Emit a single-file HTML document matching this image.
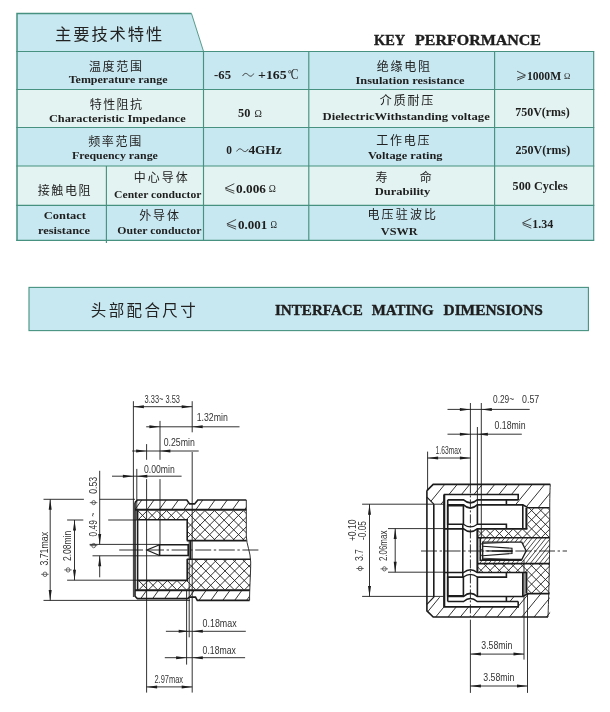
<!DOCTYPE html>
<html><head><meta charset="utf-8"><title>Key Performance</title>
<style>
html,body{margin:0;padding:0;background:#fff;}
body{width:610px;height:712px;overflow:hidden;font-family:"Liberation Serif",serif;}
svg{display:block;will-change:transform}
text{white-space:pre}
.cjk{font-family:"Liberation Sans","Noto Sans CJK SC",sans-serif;}
</style></head><body>
<svg width="610" height="712" viewBox="0 0 610 712">
<rect width="610" height="712" fill="#fff"/>
<polygon points="17,13.6 191.5,13.6 203.5,51.5 17,51.5" fill="#c8e8f1"/>
<rect x="17" y="51.5" width="576.7" height="38" fill="#c8e8f1"/>
<rect x="17" y="89.5" width="576.7" height="38" fill="#e3f3f1"/>
<rect x="17" y="127.5" width="576.7" height="38.5" fill="#c8e8f1"/>
<rect x="17" y="166" width="576.7" height="39.3" fill="#e3f3f1"/>
<rect x="17" y="205.3" width="576.7" height="35" fill="#c8e8f1"/>
<polyline points="17,241 17,13.6 191.5,13.6" fill="none" stroke="#46917f" stroke-width="1.5"/>
<line x1="191.5" y1="13.6" x2="203.5" y2="51.3" stroke="#46917f" stroke-width="0.9"/>
<line x1="16.3" y1="51.5" x2="594.25" y2="51.5" stroke="#46917f" stroke-width="1.15" />
<line x1="16.3" y1="89.5" x2="594.25" y2="89.5" stroke="#46917f" stroke-width="1.15" />
<line x1="16.3" y1="127.5" x2="594.25" y2="127.5" stroke="#46917f" stroke-width="1.15" />
<line x1="16.3" y1="166" x2="594.25" y2="166" stroke="#46917f" stroke-width="1.15" />
<line x1="16.3" y1="205.3" x2="594.25" y2="205.3" stroke="#46917f" stroke-width="1.15" />
<line x1="16.3" y1="240.3" x2="594.25" y2="240.3" stroke="#46917f" stroke-width="1.15" />
<line x1="203.5" y1="51.5" x2="203.5" y2="240.3" stroke="#46917f" stroke-width="1.15" />
<line x1="308.8" y1="51.5" x2="308.8" y2="240.3" stroke="#46917f" stroke-width="1.15" />
<line x1="494.6" y1="51.5" x2="494.6" y2="240.3" stroke="#46917f" stroke-width="1.15" />
<line x1="593.7" y1="51.5" x2="593.7" y2="240.3" stroke="#46917f" stroke-width="1.15" />
<line x1="106.4" y1="166" x2="106.4" y2="243" stroke="#46917f" stroke-width="1.15" />
<g fill="#222"><text class="cjk" x="55.12" y="40.09" font-size="16.3" letter-spacing="1.88">主要技术特性</text></g>
<text x="374" y="44.5" font-family="Liberation Serif" font-size="13.8" font-weight="bold" fill="#1e1e1e" textLength="31.2" lengthAdjust="spacingAndGlyphs" stroke="#1e1e1e" stroke-width="0.35">KEY</text>
<text x="415.1" y="44.5" font-family="Liberation Serif" font-size="13.8" font-weight="bold" fill="#1e1e1e" textLength="125.9" lengthAdjust="spacingAndGlyphs" stroke="#1e1e1e" stroke-width="0.35">PERFORMANCE</text>
<g fill="#222"><text class="cjk" x="88.89" y="71.10" font-size="12" letter-spacing="1.67">温度范围</text></g>
<text x="68.7" y="83.4" font-family="Liberation Serif" font-size="10.6" font-weight="bold" fill="#1e1e1e" textLength="98.8" lengthAdjust="spacingAndGlyphs" >Temperature range</text>
<text x="214.1" y="78.9" font-family="Liberation Serif" font-size="12.7" font-weight="bold" fill="#1e1e1e" textLength="16.9" lengthAdjust="spacingAndGlyphs" >-65</text>
<path d="M242.80,75.70 C244.62,72.55 246.33,73.00 248.15,74.80 S251.68,77.05 253.50,73.90" fill="none" stroke="#2a2a2a" stroke-width="0.9" stroke-linecap="round"/>
<text x="258" y="78.9" font-family="Liberation Serif" font-size="12.7" font-weight="bold" fill="#1e1e1e" textLength="28.7" lengthAdjust="spacingAndGlyphs" >+165</text>
<circle cx="289.70" cy="71.80" r="1.25" fill="none" stroke="#2a2a2a" stroke-width="0.7"/>
<text x="290.8" y="79" font-family="Liberation Serif" font-size="13.9394" font-weight="normal" fill="#1e1e1e" textLength="7.7" lengthAdjust="spacingAndGlyphs" >C</text>
<g fill="#222"><text class="cjk" x="376.65" y="70.62" font-size="12" letter-spacing="1.79">绝缘电阻</text></g>
<text x="355.5" y="83.6" font-family="Liberation Serif" font-size="10.6" font-weight="bold" fill="#1e1e1e" textLength="108.9" lengthAdjust="spacingAndGlyphs" >Insulation resistance</text>
<path d="M517.10,71.20 L525.50,75.20 L517.10,77.96 M525.20,76.72 L517.10,80.10" fill="none" stroke="#2a2a2a" stroke-width="0.85" stroke-linejoin="miter"/>
<text x="527" y="79.8" font-family="Liberation Serif" font-size="11.6" font-weight="bold" fill="#1e1e1e" textLength="34.1" lengthAdjust="spacingAndGlyphs" >1000M</text>
<text x="563.9" y="79" font-family="Liberation Serif" font-size="9.2" font-weight="normal" fill="#1e1e1e" textLength="6.3" lengthAdjust="spacingAndGlyphs" >Ω</text>
<g fill="#222"><text class="cjk" x="89.82" y="108.87" font-size="12" letter-spacing="1.37">特性阻抗</text></g>
<text x="48.9" y="122.3" font-family="Liberation Serif" font-size="10.6" font-weight="bold" fill="#1e1e1e" textLength="136.9" lengthAdjust="spacingAndGlyphs" >Characteristic Impedance</text>
<text x="238.1" y="117" font-family="Liberation Serif" font-size="12.5" font-weight="bold" fill="#1e1e1e" textLength="12.3" lengthAdjust="spacingAndGlyphs" >50</text>
<text x="254.6" y="116.6" font-family="Liberation Serif" font-size="10.5" font-weight="normal" fill="#1e1e1e" textLength="7.4" lengthAdjust="spacingAndGlyphs" >Ω</text>
<g fill="#222"><text class="cjk" x="379.82" y="105.46" font-size="12" letter-spacing="1.85">介质耐压</text></g>
<text x="322.6" y="120.3" font-family="Liberation Serif" font-size="10.6" font-weight="bold" fill="#1e1e1e" textLength="167.2" lengthAdjust="spacingAndGlyphs" >DielectricWithstanding voltage</text>
<text x="515.2" y="115.7" font-family="Liberation Serif" font-size="11.8" font-weight="bold" fill="#1e1e1e" textLength="54.5" lengthAdjust="spacingAndGlyphs" >750V(rms)</text>
<g fill="#222"><text class="cjk" x="88.13" y="145.53" font-size="12" letter-spacing="1.69">频率范围</text></g>
<text x="71.9" y="159.2" font-family="Liberation Serif" font-size="10.6" font-weight="bold" fill="#1e1e1e" textLength="86" lengthAdjust="spacingAndGlyphs" >Frequency range</text>
<text x="226.3" y="154.2" font-family="Liberation Serif" font-size="13" font-weight="bold" fill="#1e1e1e" textLength="5.7" lengthAdjust="spacingAndGlyphs" >0</text>
<path d="M236.90,151.10 C238.79,147.95 240.56,148.40 242.45,150.20 S246.11,152.45 248.00,149.30" fill="none" stroke="#2a2a2a" stroke-width="0.9" stroke-linecap="round"/>
<text x="248.4" y="154.2" font-family="Liberation Serif" font-size="13" font-weight="bold" fill="#1e1e1e" textLength="33.2" lengthAdjust="spacingAndGlyphs" >4GHz</text>
<g fill="#222"><text class="cjk" x="376.31" y="144.73" font-size="12" letter-spacing="1.72">工作电压</text></g>
<text x="368" y="159.2" font-family="Liberation Serif" font-size="10.6" font-weight="bold" fill="#1e1e1e" textLength="74.5" lengthAdjust="spacingAndGlyphs" >Voltage rating</text>
<text x="515.6" y="154.2" font-family="Liberation Serif" font-size="11.8" font-weight="bold" fill="#1e1e1e" textLength="54.7" lengthAdjust="spacingAndGlyphs" >250V(rms)</text>
<g fill="#222"><text class="cjk" x="37.70" y="195.10" font-size="12" letter-spacing="1.6">接触电阻</text></g>
<g fill="#222"><text class="cjk" x="133.78" y="181.87" font-size="12" letter-spacing="2.02">中心导体</text></g>
<text x="114.1" y="197.6" font-family="Liberation Serif" font-size="10.6" font-weight="bold" fill="#1e1e1e" textLength="87.3" lengthAdjust="spacingAndGlyphs" >Center conductor</text>
<path d="M234.30,183.70 L225.20,188.06 L234.30,191.07 M225.50,189.71 L234.30,193.40" fill="none" stroke="#2a2a2a" stroke-width="0.85" stroke-linejoin="miter"/>
<text x="236.1" y="193.1" font-family="Liberation Serif" font-size="12.3" font-weight="bold" fill="#1e1e1e" textLength="29.8" lengthAdjust="spacingAndGlyphs" >0.006</text>
<text x="268.8" y="192.3" font-family="Liberation Serif" font-size="10" font-weight="normal" fill="#1e1e1e" textLength="7.1" lengthAdjust="spacingAndGlyphs" >Ω</text>
<g fill="#222"><text class="cjk" x="375.59" y="181.89" font-size="12">寿</text></g>
<g fill="#222"><text class="cjk" x="419.76" y="181.94" font-size="12">命</text></g>
<text x="374.7" y="194.7" font-family="Liberation Serif" font-size="10.6" font-weight="bold" fill="#1e1e1e" textLength="55.6" lengthAdjust="spacingAndGlyphs" >Durability</text>
<text x="512.6" y="189.9" font-family="Liberation Serif" font-size="11.8" font-weight="bold" fill="#1e1e1e" textLength="55.1" lengthAdjust="spacingAndGlyphs" >500 Cycles</text>
<text x="43.8" y="218.7" font-family="Liberation Serif" font-size="10.6" font-weight="bold" fill="#1e1e1e" textLength="42.2" lengthAdjust="spacingAndGlyphs" >Contact</text>
<text x="38" y="233.7" font-family="Liberation Serif" font-size="10.6" font-weight="bold" fill="#1e1e1e" textLength="52.1" lengthAdjust="spacingAndGlyphs" >resistance</text>
<g fill="#222"><text class="cjk" x="139.32" y="219.57" font-size="12" letter-spacing="1.81">外导体</text></g>
<text x="117.3" y="233.7" font-family="Liberation Serif" font-size="10.6" font-weight="bold" fill="#1e1e1e" textLength="84.1" lengthAdjust="spacingAndGlyphs" >Outer conductor</text>
<path d="M236.10,219.50 L226.90,223.87 L236.10,226.87 M227.20,225.51 L236.10,229.20" fill="none" stroke="#2a2a2a" stroke-width="0.85" stroke-linejoin="miter"/>
<text x="238.1" y="228.9" font-family="Liberation Serif" font-size="12.3" font-weight="bold" fill="#1e1e1e" textLength="29.2" lengthAdjust="spacingAndGlyphs" >0.001</text>
<text x="270.5" y="228.1" font-family="Liberation Serif" font-size="10" font-weight="normal" fill="#1e1e1e" textLength="6.5" lengthAdjust="spacingAndGlyphs" >Ω</text>
<g fill="#222"><text class="cjk" x="367.47" y="219.40" font-size="12" letter-spacing="2.14">电压驻波比</text></g>
<text x="380.8" y="234.7" font-family="Liberation Serif" font-size="11.2" font-weight="bold" fill="#1e1e1e" textLength="36.7" lengthAdjust="spacingAndGlyphs" >VSWR</text>
<path d="M531.30,218.50 L522.50,222.87 L531.30,225.87 M522.80,224.51 L531.30,228.20" fill="none" stroke="#2a2a2a" stroke-width="0.85" stroke-linejoin="miter"/>
<text x="532.3" y="227.9" font-family="Liberation Serif" font-size="12" font-weight="bold" fill="#1e1e1e" textLength="21" lengthAdjust="spacingAndGlyphs" >1.34</text>
<rect x="29" y="287.4" width="559.4" height="43.2" fill="#c8e8f1" stroke="#46917f" stroke-width="1.1"/>
<g fill="#222"><text class="cjk" x="90.76" y="315.91" font-size="15.5" letter-spacing="2.4">头部配合尺寸</text></g>
<text x="275" y="314.8" font-family="Liberation Serif" font-size="14.3" font-weight="bold" fill="#1e1e1e" textLength="87.8" lengthAdjust="spacingAndGlyphs" stroke="#1e1e1e" stroke-width="0.35">INTERFACE</text>
<text x="371.7" y="314.8" font-family="Liberation Serif" font-size="14.3" font-weight="bold" fill="#1e1e1e" textLength="61.9" lengthAdjust="spacingAndGlyphs" stroke="#1e1e1e" stroke-width="0.35">MATING</text>
<text x="443.5" y="314.8" font-family="Liberation Serif" font-size="14.3" font-weight="bold" fill="#1e1e1e" textLength="99.3" lengthAdjust="spacingAndGlyphs" stroke="#1e1e1e" stroke-width="0.35">DIMENSIONS</text>
<clipPath id="c1"><path d="M135,509.6 L135,502.6 L137.4,500 L186.8,500 L189.6,503.9 L194.6,503.9 L197.8,500 L246.3,500 L246.3,509.6 Z" clip-rule="evenodd"/></clipPath>
<path d="M110.50,509.60 L117.77,499.50 M122.70,509.60 L129.97,499.50 M134.90,509.60 L142.17,499.50 M147.10,509.60 L154.37,499.50 M159.30,509.60 L166.57,499.50 M171.50,509.60 L178.77,499.50 M183.70,509.60 L190.97,499.50 M195.90,509.60 L203.17,499.50 M208.10,509.60 L215.37,499.50 M220.30,509.60 L227.57,499.50 M232.50,509.60 L239.77,499.50 M244.70,509.60 L251.97,499.50 M256.90,509.60 L264.17,499.50" clip-path="url(#c1)" fill="none" stroke="#1c1c1c" stroke-width="0.9"/>
<clipPath id="c2"><path d="M135,590.2 L135,596.2 L137.4,598.6 L187.7,598.6 L189.5,597.1 L195.5,597.1 L197.3,600.4 L249.6,600.4 L249.8,590.2 Z" clip-rule="evenodd"/></clipPath>
<path d="M115.58,600.50 L123.00,590.20 M127.48,600.50 L134.90,590.20 M139.38,600.50 L146.80,590.20 M151.28,600.50 L158.70,590.20 M163.18,600.50 L170.60,590.20 M175.08,600.50 L182.50,590.20 M186.98,600.50 L194.40,590.20 M198.88,600.50 L206.30,590.20 M210.78,600.50 L218.20,590.20 M222.68,600.50 L230.10,590.20 M234.58,600.50 L242.00,590.20 M246.48,600.50 L253.90,590.20 M258.38,600.50 L265.80,590.20" clip-path="url(#c2)" fill="none" stroke="#1c1c1c" stroke-width="0.9"/>
<clipPath id="c3"><path d="M137.4,510.4 L246.3,510.4 L246.3,540.4 L187.5,540.4 L187.5,519.6 L137.4,519.6 Z" clip-rule="evenodd"/></clipPath>
<path d="M88.50,540.60 L118.70,510.40 M98.10,540.60 L128.30,510.40 M107.70,540.60 L137.90,510.40 M117.30,540.60 L147.50,510.40 M126.90,540.60 L157.10,510.40 M136.50,540.60 L166.70,510.40 M146.10,540.60 L176.30,510.40 M155.70,540.60 L185.90,510.40 M165.30,540.60 L195.50,510.40 M174.90,540.60 L205.10,510.40 M184.50,540.60 L214.70,510.40 M194.10,540.60 L224.30,510.40 M203.70,540.60 L233.90,510.40 M213.30,540.60 L243.50,510.40 M222.90,540.60 L253.10,510.40 M232.50,540.60 L262.70,510.40 M242.10,540.60 L272.30,510.40 M251.70,540.60 L281.90,510.40 M89.50,510.40 L119.70,540.60 M99.10,510.40 L129.30,540.60 M108.70,510.40 L138.90,540.60 M118.30,510.40 L148.50,540.60 M127.90,510.40 L158.10,540.60 M137.50,510.40 L167.70,540.60 M147.10,510.40 L177.30,540.60 M156.70,510.40 L186.90,540.60 M166.30,510.40 L196.50,540.60 M175.90,510.40 L206.10,540.60 M185.50,510.40 L215.70,540.60 M195.10,510.40 L225.30,540.60 M204.70,510.40 L234.90,540.60 M214.30,510.40 L244.50,540.60 M223.90,510.40 L254.10,540.60 M233.50,510.40 L263.70,540.60 M243.10,510.40 L273.30,540.60 M252.70,510.40 L282.90,540.60" clip-path="url(#c3)" fill="none" stroke="#1c1c1c" stroke-width="0.9"/>
<clipPath id="c4"><path d="M137.4,589.8 L249.9,589.8 L250.6,559.3 L187.5,559.3 L187.5,580.6 L137.4,580.6 Z" clip-rule="evenodd"/></clipPath>
<path d="M90.90,589.80 L121.40,559.30 M100.50,589.80 L131.00,559.30 M110.10,589.80 L140.60,559.30 M119.70,589.80 L150.20,559.30 M129.30,589.80 L159.80,559.30 M138.90,589.80 L169.40,559.30 M148.50,589.80 L179.00,559.30 M158.10,589.80 L188.60,559.30 M167.70,589.80 L198.20,559.30 M177.30,589.80 L207.80,559.30 M186.90,589.80 L217.40,559.30 M196.50,589.80 L227.00,559.30 M206.10,589.80 L236.60,559.30 M215.70,589.80 L246.20,559.30 M225.30,589.80 L255.80,559.30 M234.90,589.80 L265.40,559.30 M244.50,589.80 L275.00,559.30 M254.10,589.80 L284.60,559.30 M88.60,559.30 L119.10,589.80 M98.20,559.30 L128.70,589.80 M107.80,559.30 L138.30,589.80 M117.40,559.30 L147.90,589.80 M127.00,559.30 L157.50,589.80 M136.60,559.30 L167.10,589.80 M146.20,559.30 L176.70,589.80 M155.80,559.30 L186.30,589.80 M165.40,559.30 L195.90,589.80 M175.00,559.30 L205.50,589.80 M184.60,559.30 L215.10,589.80 M194.20,559.30 L224.70,589.80 M203.80,559.30 L234.30,589.80 M213.40,559.30 L243.90,589.80 M223.00,559.30 L253.50,589.80 M232.60,559.30 L263.10,589.80 M242.20,559.30 L272.70,589.80 M251.80,559.30 L282.30,589.80" clip-path="url(#c4)" fill="none" stroke="#1c1c1c" stroke-width="0.9"/>
<line x1="133.40" y1="401.20" x2="133.40" y2="597.00" stroke="#1c1c1c" stroke-width="0.9"/>
<line x1="136.80" y1="468.90" x2="136.80" y2="520.00" stroke="#1c1c1c" stroke-width="0.9"/>
<line x1="146.60" y1="444.10" x2="146.60" y2="459.80" stroke="#1c1c1c" stroke-width="0.9"/>
<line x1="146.60" y1="479.10" x2="146.60" y2="692.60" stroke="#1c1c1c" stroke-width="0.9"/>
<line x1="160.00" y1="420.90" x2="160.00" y2="459.80" stroke="#1c1c1c" stroke-width="0.9"/>
<line x1="160.00" y1="479.10" x2="160.00" y2="544.60" stroke="#1c1c1c" stroke-width="0.9"/>
<line x1="192.20" y1="401.20" x2="192.20" y2="432.30" stroke="#1c1c1c" stroke-width="0.9"/>
<line x1="192.20" y1="452.00" x2="192.20" y2="692.60" stroke="#1c1c1c" stroke-width="0.9"/>
<line x1="186.60" y1="590.00" x2="186.60" y2="664.60" stroke="#1c1c1c" stroke-width="0.9"/>
<line x1="189.20" y1="540.00" x2="189.20" y2="637.30" stroke="#1c1c1c" stroke-width="0.9"/>
<line x1="43.50" y1="499.30" x2="83.90" y2="499.30" stroke="#1c1c1c" stroke-width="0.9"/>
<line x1="99.70" y1="499.30" x2="135.00" y2="499.30" stroke="#1c1c1c" stroke-width="0.9"/>
<line x1="43.50" y1="600.40" x2="190.00" y2="600.40" stroke="#1c1c1c" stroke-width="0.9"/>
<line x1="67.10" y1="520.00" x2="83.30" y2="520.00" stroke="#1c1c1c" stroke-width="0.9"/>
<line x1="108.20" y1="520.00" x2="137.00" y2="520.00" stroke="#1c1c1c" stroke-width="0.9"/>
<line x1="67.10" y1="580.20" x2="137.00" y2="580.20" stroke="#1c1c1c" stroke-width="0.9"/>
<line x1="89.60" y1="544.40" x2="159.30" y2="544.40" stroke="#1c1c1c" stroke-width="0.9"/>
<line x1="92.50" y1="555.80" x2="159.30" y2="555.80" stroke="#1c1c1c" stroke-width="0.9"/>
<line x1="119.20" y1="550.00" x2="143.00" y2="550.00" stroke="#1c1c1c" stroke-width="0.9"/>
<line x1="148.00" y1="550.00" x2="260.00" y2="550.00" stroke="#1c1c1c" stroke-width="0.9" stroke-dasharray="16 2.6 2.4 2.6"/>
<path d="M135,502.6 L137.4,500 L186.8,500 L189.6,503.9 L194.6,503.9 L197.8,500 L246.3,500" fill="none" stroke="#1c1c1c" stroke-width="1.6" stroke-linejoin="miter"/>
<path d="M246.3,500 L246.3,536 C246.5,545 250.6,552 250.7,562 C250.7,575 249.4,590 249.6,600.4" fill="none" stroke="#1c1c1c" stroke-width="0.9" stroke-linejoin="miter"/>
<path d="M135,502.6 L135,596.2 L137.4,598.6 L187.7,598.6 L189.5,597.1 L195.5,597.1 L197.3,600.4 L249.6,600.4" fill="none" stroke="#1c1c1c" stroke-width="1.6" stroke-linejoin="miter"/>
<line x1="135.00" y1="509.70" x2="246.30" y2="509.70" stroke="#1c1c1c" stroke-width="2"/>
<line x1="135.00" y1="590.20" x2="249.80" y2="590.20" stroke="#1c1c1c" stroke-width="2"/>
<path d="M137.6,519.8 L187.2,519.8 L187.2,540.6 M187.2,559.2 L187.2,580.4 L137.6,580.4" fill="none" stroke="#1c1c1c" stroke-width="1.6" stroke-linejoin="miter"/>
<line x1="137.60" y1="510.00" x2="137.60" y2="590.00" stroke="#1c1c1c" stroke-width="1.6"/>
<path d="M246.6,540.6 L186.8,540.6 M186.8,559.2 L250.6,559.2 M190.6,540.6 L190.6,559.2" fill="none" stroke="#1c1c1c" stroke-width="1.6" stroke-linejoin="miter"/>
<path d="M159.6,544.7 L188.2,544.7 L188.2,555.5 L159.6,555.5 Z" fill="none" stroke="#1c1c1c" stroke-width="1.6" stroke-linejoin="miter"/>
<path d="M159.6,544.7 L146.8,550 L159.6,555.5" fill="none" stroke="#1c1c1c" stroke-width="1.2" stroke-linejoin="miter"/>
<line x1="133.40" y1="406.70" x2="192.20" y2="406.70" stroke="#1c1c1c" stroke-width="0.9"/>
<polygon points="133.40,406.70 143.90,405.20 143.90,408.20" fill="#1c1c1c"/>
<polygon points="192.20,406.70 181.70,405.20 181.70,408.20" fill="#1c1c1c"/>
<line x1="146.20" y1="426.80" x2="239.50" y2="426.80" stroke="#1c1c1c" stroke-width="0.9"/>
<polygon points="159.90,426.80 149.40,425.30 149.40,428.30" fill="#1c1c1c"/>
<polygon points="192.20,426.80 202.70,425.30 202.70,428.30" fill="#1c1c1c"/>
<line x1="132.20" y1="451.00" x2="198.70" y2="451.00" stroke="#1c1c1c" stroke-width="0.9"/>
<polygon points="146.60,451.00 136.10,449.50 136.10,452.50" fill="#1c1c1c"/>
<polygon points="159.90,451.00 170.40,449.50 170.40,452.50" fill="#1c1c1c"/>
<line x1="112.00" y1="476.20" x2="181.60" y2="476.20" stroke="#1c1c1c" stroke-width="0.9"/>
<polygon points="133.40,476.20 122.90,474.70 122.90,477.70" fill="#1c1c1c"/>
<polygon points="136.80,476.20 147.30,474.70 147.30,477.70" fill="#1c1c1c"/>
<text x="144.60" y="402.80" font-family="Liberation Sans" font-size="11" fill="#333" textLength="35.40" lengthAdjust="spacingAndGlyphs">3.33~ 3.53</text>
<text x="196.70" y="421.10" font-family="Liberation Sans" font-size="11" fill="#333" textLength="31.10" lengthAdjust="spacingAndGlyphs">1.32min</text>
<text x="163.70" y="445.70" font-family="Liberation Sans" font-size="11" fill="#333" textLength="31.10" lengthAdjust="spacingAndGlyphs">0.25min</text>
<text x="144.00" y="473.20" font-family="Liberation Sans" font-size="11" fill="#333" textLength="30.70" lengthAdjust="spacingAndGlyphs">0.00min</text>
<line x1="50.20" y1="499.30" x2="50.20" y2="600.40" stroke="#1c1c1c" stroke-width="0.9"/>
<polygon points="50.20,499.30 48.70,509.80 51.70,509.80" fill="#1c1c1c"/>
<polygon points="50.20,600.40 48.70,589.90 51.70,589.90" fill="#1c1c1c"/>
<line x1="74.50" y1="520.00" x2="74.50" y2="580.20" stroke="#1c1c1c" stroke-width="0.9"/>
<polygon points="74.50,520.00 73.00,530.50 76.00,530.50" fill="#1c1c1c"/>
<polygon points="74.50,580.20 73.00,569.70 76.00,569.70" fill="#1c1c1c"/>
<line x1="99.70" y1="470.80" x2="99.70" y2="544.40" stroke="#1c1c1c" stroke-width="0.9"/>
<polygon points="99.70,544.40 98.20,533.90 101.20,533.90" fill="#1c1c1c"/>
<line x1="99.70" y1="555.80" x2="99.70" y2="577.30" stroke="#1c1c1c" stroke-width="0.9"/>
<polygon points="99.70,555.80 98.20,566.30 101.20,566.30" fill="#1c1c1c"/>
<text transform="translate(48.00,565.60) rotate(-90)" font-family="Liberation Sans" font-size="11" fill="#333" textLength="33.70" lengthAdjust="spacingAndGlyphs">3.71max</text>
<ellipse cx="44.98" cy="574.30" rx="1.95" ry="2.30" fill="none" stroke="#333" stroke-width="0.7"/>
<line x1="41.10" y1="574.30" x2="48.60" y2="574.30" stroke="#333" stroke-width="0.7"/>
<text transform="translate(71.10,561.10) rotate(-90)" font-family="Liberation Sans" font-size="11" fill="#333" textLength="30.30" lengthAdjust="spacingAndGlyphs">2.08min</text>
<ellipse cx="68.08" cy="569.90" rx="1.87" ry="2.20" fill="none" stroke="#333" stroke-width="0.7"/>
<line x1="64.20" y1="569.90" x2="71.70" y2="569.90" stroke="#333" stroke-width="0.7"/>
<text transform="translate(96.70,536.40) rotate(-90)" font-family="Liberation Sans" font-size="11" fill="#333" textLength="16.20" lengthAdjust="spacingAndGlyphs">0.49</text>
<ellipse cx="93.68" cy="545.60" rx="1.87" ry="2.20" fill="none" stroke="#333" stroke-width="0.7"/>
<line x1="89.80" y1="545.60" x2="97.30" y2="545.60" stroke="#333" stroke-width="0.7"/>
<text transform="translate(96.70,516.40) rotate(-90)" font-family="Liberation Sans" font-size="11" fill="#333" textLength="3.80" lengthAdjust="spacingAndGlyphs">~</text>
<ellipse cx="93.68" cy="502.60" rx="1.79" ry="2.10" fill="none" stroke="#333" stroke-width="0.7"/>
<line x1="89.80" y1="502.60" x2="97.30" y2="502.60" stroke="#333" stroke-width="0.7"/>
<text transform="translate(96.70,493.70) rotate(-90)" font-family="Liberation Sans" font-size="11" fill="#333" textLength="16.80" lengthAdjust="spacingAndGlyphs">0.53</text>
<line x1="165.90" y1="631.30" x2="245.80" y2="631.30" stroke="#1c1c1c" stroke-width="0.9"/>
<polygon points="189.20,631.30 178.70,629.80 178.70,632.80" fill="#1c1c1c"/>
<polygon points="192.30,631.30 202.80,629.80 202.80,632.80" fill="#1c1c1c"/>
<line x1="164.80" y1="657.70" x2="245.10" y2="657.70" stroke="#1c1c1c" stroke-width="0.9"/>
<polygon points="186.60,657.70 176.10,656.20 176.10,659.20" fill="#1c1c1c"/>
<polygon points="192.30,657.70 202.80,656.20 202.80,659.20" fill="#1c1c1c"/>
<line x1="146.60" y1="686.90" x2="192.20" y2="686.90" stroke="#1c1c1c" stroke-width="0.9"/>
<polygon points="146.60,686.90 157.10,685.40 157.10,688.40" fill="#1c1c1c"/>
<polygon points="192.20,686.90 181.70,685.40 181.70,688.40" fill="#1c1c1c"/>
<text x="202.60" y="626.70" font-family="Liberation Sans" font-size="11" fill="#333" textLength="34.00" lengthAdjust="spacingAndGlyphs">0.18max</text>
<text x="202.60" y="653.80" font-family="Liberation Sans" font-size="11" fill="#333" textLength="33.30" lengthAdjust="spacingAndGlyphs">0.18max</text>
<text x="154.40" y="682.50" font-family="Liberation Sans" font-size="11" fill="#333" textLength="28.70" lengthAdjust="spacingAndGlyphs">2.97max</text>
<clipPath id="c5"><path d="M426.90,497.10 L426.90,490.60 L433.20,484.40 L550.30,484.40 L549.60,507.80 L528.00,507.80 L522.80,504.70 L506.40,504.70 L506.40,499.90 L518.20,499.90 L518.20,494.50 L443.80,494.50 L443.80,504.20 L433.80,504.20 Z" clip-rule="evenodd"/></clipPath>
<path d="M387.87,508.00 L407.55,484.00 M400.37,508.00 L420.05,484.00 M412.87,508.00 L432.55,484.00 M425.37,508.00 L445.05,484.00 M437.87,508.00 L457.55,484.00 M450.37,508.00 L470.05,484.00 M462.87,508.00 L482.55,484.00 M475.37,508.00 L495.05,484.00 M487.87,508.00 L507.55,484.00 M500.37,508.00 L520.05,484.00 M512.87,508.00 L532.55,484.00 M525.37,508.00 L545.05,484.00 M537.87,508.00 L557.55,484.00 M550.37,508.00 L570.05,484.00 M562.87,508.00 L582.55,484.00" clip-path="url(#c5)" fill="none" stroke="#1c1c1c" stroke-width="0.9"/>
<clipPath id="c6"><path d="M426.90,604.30 L426.90,610.80 L433.20,617.00 L550.30,617.00 L549.60,593.60 L528.00,593.60 L522.80,596.70 L506.40,596.70 L506.40,601.50 L518.20,601.50 L518.20,606.90 L443.80,606.90 L443.80,597.20 L433.80,597.20 Z" clip-rule="evenodd"/></clipPath>
<path d="M386.17,617.40 L405.85,593.40 M398.47,617.40 L418.15,593.40 M410.77,617.40 L430.45,593.40 M423.07,617.40 L442.75,593.40 M435.37,617.40 L455.05,593.40 M447.67,617.40 L467.35,593.40 M459.97,617.40 L479.65,593.40 M472.27,617.40 L491.95,593.40 M484.57,617.40 L504.25,593.40 M496.87,617.40 L516.55,593.40 M509.17,617.40 L528.85,593.40 M521.47,617.40 L541.15,593.40 M533.77,617.40 L553.45,593.40 M546.07,617.40 L565.75,593.40 M558.37,617.40 L578.05,593.40" clip-path="url(#c6)" fill="none" stroke="#1c1c1c" stroke-width="0.9"/>
<clipPath id="c7"><path d="M477.5,529.4 L527.4,529.4 L527.4,508.2 L549.6,508.2 L549.6,537.7 L477.5,537.7 Z M477.5,572.00 L527.4,572.00 L527.4,593.20 L549.6,593.20 L549.6,563.70 L477.5,563.70 Z" clip-rule="evenodd"/></clipPath>
<path d="M374.50,594.00 L460.50,508.00 M383.70,594.00 L469.70,508.00 M392.90,594.00 L478.90,508.00 M402.10,594.00 L488.10,508.00 M411.30,594.00 L497.30,508.00 M420.50,594.00 L506.50,508.00 M429.70,594.00 L515.70,508.00 M438.90,594.00 L524.90,508.00 M448.10,594.00 L534.10,508.00 M457.30,594.00 L543.30,508.00 M466.50,594.00 L552.50,508.00 M475.70,594.00 L561.70,508.00 M484.90,594.00 L570.90,508.00 M494.10,594.00 L580.10,508.00 M503.30,594.00 L589.30,508.00 M512.50,594.00 L598.50,508.00 M521.70,594.00 L607.70,508.00 M530.90,594.00 L616.90,508.00 M540.10,594.00 L626.10,508.00 M549.30,594.00 L635.30,508.00 M558.50,594.00 L644.50,508.00 M372.70,508.00 L458.70,594.00 M381.90,508.00 L467.90,594.00 M391.10,508.00 L477.10,594.00 M400.30,508.00 L486.30,594.00 M409.50,508.00 L495.50,594.00 M418.70,508.00 L504.70,594.00 M427.90,508.00 L513.90,594.00 M437.10,508.00 L523.10,594.00 M446.30,508.00 L532.30,594.00 M455.50,508.00 L541.50,594.00 M464.70,508.00 L550.70,594.00 M473.90,508.00 L559.90,594.00 M483.10,508.00 L569.10,594.00 M492.30,508.00 L578.30,594.00 M501.50,508.00 L587.50,594.00 M510.70,508.00 L596.70,594.00 M519.90,508.00 L605.90,594.00 M529.10,508.00 L615.10,594.00 M538.30,508.00 L624.30,594.00 M547.50,508.00 L633.50,594.00 M556.70,508.00 L642.70,594.00" clip-path="url(#c7)" fill="none" stroke="#1c1c1c" stroke-width="0.9"/>
<clipPath id="c8"><path d="M479.8,537.9 L549.6,537.9 L549.6,563.8 L479.8,563.8 Z M482.7,542.1 L521.8,542.1 L526.2,550.9 L521.8,559.5 L482.7,559.5 Z" clip-rule="evenodd"/></clipPath>
<path d="M451.80,563.80 L472.52,537.90 M456.40,563.80 L477.12,537.90 M461.00,563.80 L481.72,537.90 M465.60,563.80 L486.32,537.90 M470.20,563.80 L490.92,537.90 M474.80,563.80 L495.52,537.90 M479.40,563.80 L500.12,537.90 M484.00,563.80 L504.72,537.90 M488.60,563.80 L509.32,537.90 M493.20,563.80 L513.92,537.90 M497.80,563.80 L518.52,537.90 M502.40,563.80 L523.12,537.90 M507.00,563.80 L527.72,537.90 M511.60,563.80 L532.32,537.90 M516.20,563.80 L536.92,537.90 M520.80,563.80 L541.52,537.90 M525.40,563.80 L546.12,537.90 M530.00,563.80 L550.72,537.90 M534.60,563.80 L555.32,537.90 M539.20,563.80 L559.92,537.90 M543.80,563.80 L564.52,537.90 M548.40,563.80 L569.12,537.90 M553.00,563.80 L573.72,537.90" clip-path="url(#c8)" fill="none" stroke="#1c1c1c" stroke-width="0.8"/>
<line x1="470.40" y1="403.00" x2="470.40" y2="484.40" stroke="#1c1c1c" stroke-width="0.9"/>
<line x1="470.40" y1="484.40" x2="470.40" y2="617.00" stroke="#1c1c1c" stroke-width="0.9" stroke-dasharray="9 2 2 2"/>
<line x1="470.40" y1="619.70" x2="470.40" y2="692.90" stroke="#1c1c1c" stroke-width="0.9"/>
<line x1="481.30" y1="403.00" x2="481.30" y2="538.00" stroke="#1c1c1c" stroke-width="0.9"/>
<line x1="477.40" y1="427.00" x2="477.40" y2="505.00" stroke="#1c1c1c" stroke-width="0.9"/>
<line x1="427.60" y1="451.60" x2="427.60" y2="491.00" stroke="#1c1c1c" stroke-width="0.9"/>
<line x1="524.00" y1="560.00" x2="524.00" y2="659.60" stroke="#1c1c1c" stroke-width="0.9"/>
<line x1="527.50" y1="594.00" x2="527.50" y2="692.90" stroke="#1c1c1c" stroke-width="0.9"/>
<line x1="362.10" y1="504.20" x2="443.80" y2="504.20" stroke="#1c1c1c" stroke-width="0.9"/>
<line x1="362.10" y1="596.40" x2="443.80" y2="596.40" stroke="#1c1c1c" stroke-width="0.9"/>
<line x1="388.00" y1="528.60" x2="443.80" y2="528.60" stroke="#1c1c1c" stroke-width="0.9"/>
<line x1="388.00" y1="572.20" x2="443.80" y2="572.20" stroke="#1c1c1c" stroke-width="0.9"/>
<line x1="421.00" y1="551.00" x2="567.00" y2="551.00" stroke="#1c1c1c" stroke-width="0.9" stroke-dasharray="16 2.6 2.4 2.6"/>
<path d="M426.9,490.6 L433.2,484.4 L550.3,484.4 M426.9,490.6 L426.9,610.80 L433.2,617.00 L548,617.00" fill="none" stroke="#1c1c1c" stroke-width="1.6" stroke-linejoin="miter"/>
<path d="M550.3,484.4 C549.2,500 550.2,530 549.4,560 C549,585 548.6,600 548,617.00" fill="none" stroke="#1c1c1c" stroke-width="0.9" stroke-linejoin="miter"/>
<path d="M426.9,497.10 L433.8,504.20" fill="none" stroke="#1c1c1c" stroke-width="1.2" stroke-linejoin="miter"/>
<path d="M443.8,494.50 L518.2,494.50 L518.2,499.90" fill="none" stroke="#1c1c1c" stroke-width="1.6" stroke-linejoin="miter"/>
<path d="M447.7,499.90 L463.6,499.90 Q470.4,505.90 477.2,499.90 L518.2,499.90" fill="none" stroke="#1c1c1c" stroke-width="1.6" stroke-linejoin="miter"/>
<path d="M447.7,504.90 L463.6,504.90 Q470.4,511.30 477.2,504.90 L522.8,504.90 L528,507.80 L549.6,507.80" fill="none" stroke="#1c1c1c" stroke-width="1.6" stroke-linejoin="miter"/>
<line x1="506.40" y1="499.90" x2="506.40" y2="504.90" stroke="#1c1c1c" stroke-width="1.6"/>
<path d="M447.7,505.60 L463.4,505.60 L463.4,524.30 L447.7,524.30 Z" fill="none" stroke="#1c1c1c" stroke-width="1.6" stroke-linejoin="miter"/>
<path d="M477.4,504.90 L477.4,524.30 L506.4,524.30 L506.4,528.90" fill="none" stroke="#1c1c1c" stroke-width="1.6" stroke-linejoin="miter"/>
<path d="M463.4,524.30 Q470.4,529.60 477.4,524.30" fill="none" stroke="#1c1c1c" stroke-width="1.2" stroke-linejoin="miter"/>
<path d="M443.8,528.90 L463.6,528.90 Q470.4,534.40 477.2,528.90 L527.4,528.90" fill="none" stroke="#1c1c1c" stroke-width="1.6" stroke-linejoin="miter"/>
<line x1="522.80" y1="504.90" x2="522.80" y2="528.90" stroke="#1c1c1c" stroke-width="1.6"/>
<line x1="526.40" y1="507.80" x2="526.40" y2="528.90" stroke="#1c1c1c" stroke-width="2"/>
<line x1="477.50" y1="537.80" x2="549.60" y2="537.80" stroke="#1c1c1c" stroke-width="1.6"/>
<path d="M426.9,604.30 L433.8,597.20" fill="none" stroke="#1c1c1c" stroke-width="1.2" stroke-linejoin="miter"/>
<path d="M443.8,606.90 L518.2,606.90 L518.2,601.50" fill="none" stroke="#1c1c1c" stroke-width="1.6" stroke-linejoin="miter"/>
<path d="M447.7,601.50 L463.6,601.50 Q470.4,595.50 477.2,601.50 L518.2,601.50" fill="none" stroke="#1c1c1c" stroke-width="1.6" stroke-linejoin="miter"/>
<path d="M447.7,596.50 L463.6,596.50 Q470.4,590.10 477.2,596.50 L522.8,596.50 L528,593.60 L549.6,593.60" fill="none" stroke="#1c1c1c" stroke-width="1.6" stroke-linejoin="miter"/>
<line x1="506.40" y1="601.50" x2="506.40" y2="596.50" stroke="#1c1c1c" stroke-width="1.6"/>
<path d="M447.7,595.80 L463.4,595.80 L463.4,577.10 L447.7,577.10 Z" fill="none" stroke="#1c1c1c" stroke-width="1.6" stroke-linejoin="miter"/>
<path d="M477.4,596.50 L477.4,577.10 L506.4,577.10 L506.4,572.50" fill="none" stroke="#1c1c1c" stroke-width="1.6" stroke-linejoin="miter"/>
<path d="M463.4,577.10 Q470.4,571.80 477.4,577.10" fill="none" stroke="#1c1c1c" stroke-width="1.2" stroke-linejoin="miter"/>
<path d="M443.8,572.50 L463.6,572.50 Q470.4,567.00 477.2,572.50 L527.4,572.50" fill="none" stroke="#1c1c1c" stroke-width="1.6" stroke-linejoin="miter"/>
<line x1="522.80" y1="596.50" x2="522.80" y2="572.50" stroke="#1c1c1c" stroke-width="1.6"/>
<line x1="526.40" y1="593.60" x2="526.40" y2="572.50" stroke="#1c1c1c" stroke-width="2"/>
<line x1="477.50" y1="563.60" x2="549.60" y2="563.60" stroke="#1c1c1c" stroke-width="1.6"/>
<line x1="433.80" y1="504.20" x2="433.80" y2="597.20" stroke="#1c1c1c" stroke-width="1.6"/>
<line x1="444.20" y1="494.50" x2="444.20" y2="606.90" stroke="#1c1c1c" stroke-width="2.2"/>
<line x1="447.70" y1="499.90" x2="447.70" y2="601.50" stroke="#1c1c1c" stroke-width="1.6"/>
<line x1="462.80" y1="524.30" x2="462.80" y2="577.10" stroke="#1c1c1c" stroke-width="1.6"/>
<line x1="477.40" y1="528.90" x2="477.40" y2="572.50" stroke="#1c1c1c" stroke-width="2"/>
<path d="M480.3,537.8 L480.3,560.3 L521.8,560.3" fill="none" stroke="#1c1c1c" stroke-width="1.6" stroke-linejoin="miter"/>
<path d="M482.7,542.1 L521.8,542.1 L526.2,550.9 L521.8,559.5 L482.7,559.5 Z" fill="none" stroke="#1c1c1c" stroke-width="1.3" stroke-linejoin="miter"/>
<path d="M482.7,546.2 L512,548.3 L512,553.5 L482.7,555.8" fill="none" stroke="#1c1c1c" stroke-width="1.1" stroke-linejoin="miter"/>
<path d="M485.5,550.9 L512,550.2 L512,552 Z" fill="#1c1c1c" stroke="#1c1c1c" stroke-width="0.6" stroke-linejoin="miter"/>
<path d="M482.7,543.6 L509,542.3 M482.7,558.2 L509,559.4" fill="none" stroke="#1c1c1c" stroke-width="0.8" stroke-linejoin="miter"/>
<line x1="447.50" y1="409.40" x2="529.70" y2="409.40" stroke="#1c1c1c" stroke-width="0.9"/>
<polygon points="470.40,409.40 459.90,407.90 459.90,410.90" fill="#1c1c1c"/>
<polygon points="481.30,409.40 491.80,407.90 491.80,410.90" fill="#1c1c1c"/>
<line x1="447.50" y1="434.20" x2="521.80" y2="434.20" stroke="#1c1c1c" stroke-width="0.9"/>
<polygon points="470.40,434.20 459.90,432.70 459.90,435.70" fill="#1c1c1c"/>
<polygon points="477.40,434.20 487.90,432.70 487.90,435.70" fill="#1c1c1c"/>
<line x1="427.60" y1="458.00" x2="470.40" y2="458.00" stroke="#1c1c1c" stroke-width="0.9"/>
<polygon points="427.60,458.00 438.10,456.50 438.10,459.50" fill="#1c1c1c"/>
<polygon points="470.40,458.00 459.90,456.50 459.90,459.50" fill="#1c1c1c"/>
<line x1="369.50" y1="504.20" x2="369.50" y2="596.40" stroke="#1c1c1c" stroke-width="0.9"/>
<polygon points="369.50,504.20 368.00,514.70 371.00,514.70" fill="#1c1c1c"/>
<polygon points="369.50,596.40 368.00,585.90 371.00,585.90" fill="#1c1c1c"/>
<line x1="395.20" y1="528.60" x2="395.20" y2="572.20" stroke="#1c1c1c" stroke-width="0.9"/>
<polygon points="395.20,528.60 393.70,539.10 396.70,539.10" fill="#1c1c1c"/>
<polygon points="395.20,572.20 393.70,561.70 396.70,561.70" fill="#1c1c1c"/>
<line x1="470.40" y1="654.10" x2="524.00" y2="654.10" stroke="#1c1c1c" stroke-width="0.9"/>
<polygon points="470.40,654.10 480.90,652.60 480.90,655.60" fill="#1c1c1c"/>
<polygon points="524.00,654.10 513.50,652.60 513.50,655.60" fill="#1c1c1c"/>
<line x1="470.40" y1="686.00" x2="527.50" y2="686.00" stroke="#1c1c1c" stroke-width="0.9"/>
<polygon points="470.40,686.00 480.90,684.50 480.90,687.50" fill="#1c1c1c"/>
<polygon points="527.50,686.00 517.00,684.50 517.00,687.50" fill="#1c1c1c"/>
<text x="493.00" y="403.00" font-family="Liberation Sans" font-size="11" fill="#333" textLength="21.10" lengthAdjust="spacingAndGlyphs">0.29~</text>
<text x="522.10" y="403.00" font-family="Liberation Sans" font-size="11" fill="#333" textLength="17.20" lengthAdjust="spacingAndGlyphs">0.57</text>
<text x="494.60" y="428.90" font-family="Liberation Sans" font-size="11" fill="#333" textLength="31.00" lengthAdjust="spacingAndGlyphs">0.18min</text>
<text x="435.60" y="453.90" font-family="Liberation Sans" font-size="10.5" fill="#333" textLength="25.70" lengthAdjust="spacingAndGlyphs">1.63max</text>
<text x="481.30" y="648.60" font-family="Liberation Sans" font-size="11" fill="#333" textLength="31.10" lengthAdjust="spacingAndGlyphs">3.58min</text>
<text x="483.30" y="680.70" font-family="Liberation Sans" font-size="11" fill="#333" textLength="31.10" lengthAdjust="spacingAndGlyphs">3.58min</text>
<text transform="translate(363.20,561.10) rotate(-90)" font-family="Liberation Sans" font-size="11" fill="#333" textLength="12.00" lengthAdjust="spacingAndGlyphs">3.7</text>
<ellipse cx="360.18" cy="568.50" rx="1.87" ry="2.20" fill="none" stroke="#333" stroke-width="0.7"/>
<line x1="356.30" y1="568.50" x2="363.80" y2="568.50" stroke="#333" stroke-width="0.7"/>
<text transform="translate(355.80,541.10) rotate(-90)" font-family="Liberation Sans" font-size="11" fill="#333" textLength="21.50" lengthAdjust="spacingAndGlyphs">+0.10</text>
<text transform="translate(366.30,540.10) rotate(-90)" font-family="Liberation Sans" font-size="11" fill="#333" textLength="19.00" lengthAdjust="spacingAndGlyphs">-0.05</text>
<text transform="translate(387.40,561.10) rotate(-90)" font-family="Liberation Sans" font-size="10.5" fill="#333" textLength="30.50" lengthAdjust="spacingAndGlyphs">2.06max</text>
<ellipse cx="384.38" cy="568.85" rx="1.83" ry="2.15" fill="none" stroke="#333" stroke-width="0.7"/>
<line x1="380.50" y1="568.85" x2="388.00" y2="568.85" stroke="#333" stroke-width="0.7"/>
</svg>
</body></html>
